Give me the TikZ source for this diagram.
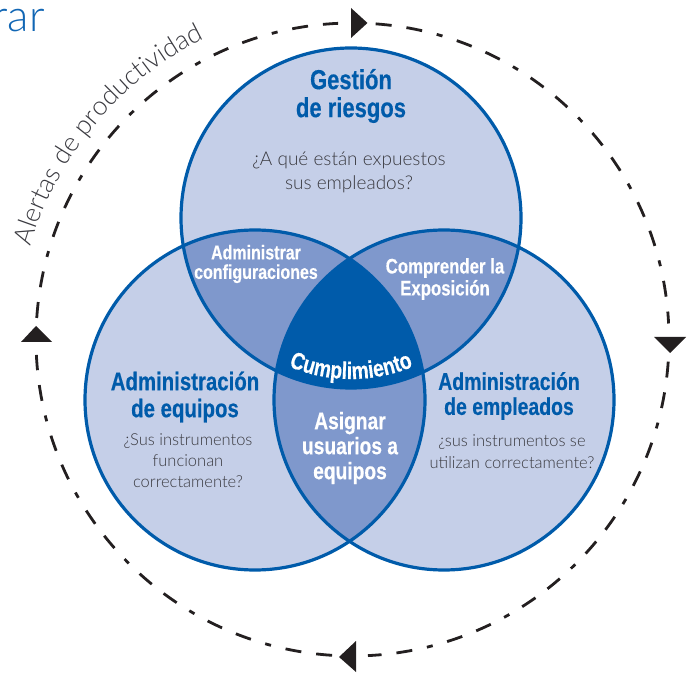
\documentclass[tikz,border=0pt]{standalone}
\usepackage{fontspec}
\setmainfont{Liberation Sans}
\newfontfamily\condfont[FakeStretch=0.80,FakeBold=0.4]{Liberation Sans Bold}
\newfontfamily\lightfont{Lato Light}
\usetikzlibrary{decorations.text}
\definecolor{vlight}{HTML}{C5CFE8}
\definecolor{vmid}{HTML}{7F98CC}
\definecolor{vdark}{HTML}{005BAA}
\definecolor{vgrey}{HTML}{3A3A40}
\definecolor{vblack}{HTML}{231F20}
\definecolor{vhead}{HTML}{1166B4}
\tikzset{
 x=1pt,y=1pt,
 ring/.style={draw=vdark,line width=3.2pt},
 track/.style={draw=vblack,line width=2.8pt,dash pattern=on 16pt off 15pt on 16pt off 15pt on 6pt off 15pt},
 head/.style={fill=vblack},
 title/.style={text=vdark,align=center,inner sep=0pt},
 note/.style={text=vgrey,align=center,inner sep=0pt},
 label/.style={text=white,align=center,inner sep=0pt},
}
\begin{document}
\begin{tikzpicture}
\useasboundingbox (0,0) rectangle (696,675);
\coordinate (ct) at (351,457);
\coordinate (cl) at (255,275);
\coordinate (cr) at (444,275);
\coordinate (cc) at (352.5,335.5);
% base fills
\fill[vlight] (ct) circle (170pt) (cl) circle (170pt) (cr) circle (170pt);
\begin{scope}\clip (ct) circle (170pt);\fill[vmid] (cl) circle (170pt) (cr) circle (170pt);\end{scope}
\begin{scope}\clip (cl) circle (170pt);\fill[vmid] (cr) circle (170pt);\end{scope}
\begin{scope}\clip (ct) circle (170pt);\clip (cl) circle (170pt);\fill[vdark] (cr) circle (170pt);\end{scope}
\draw[ring] (ct) circle (170pt);
\draw[ring] (cl) circle (170pt);
\draw[ring] (cr) circle (170pt);
% dashed cycle
\draw[track] (cc) ++(85.8:316.5pt) arc[start angle=85.8,end angle=2.9,radius=316.5pt];
\draw[track] (cc) ++(-4:316.5pt) arc[start angle=-4,end angle=-87.2,radius=316.5pt];
\draw[track] (cc) ++(-93.7:316.5pt) arc[start angle=-93.7,end angle=-177.2,radius=316.5pt];
\draw[track] (cc) ++(176.1:316.5pt) arc[start angle=176.1,end angle=92.6,radius=316.5pt];
% arrowheads
\fill[head] (351,667) -- (367.5,652) -- (351,637) -- cycle;
\fill[head] (654,338) -- (686,338) -- (670,322) -- cycle;
\fill[head] (356,34) -- (339,18) -- (356,3) -- cycle;
\fill[head] (21,333) -- (52,333) -- (36,349) -- cycle;
% curved text
\path[decorate,decoration={text along path,text align=center,
  text={|\lightfont\fontsize{26.5}{26.5}\selectfont\color{vgrey}|Alertas de productividad}}]
  (cc) ++(165:335pt) arc[start angle=165,end angle=115,radius=335pt];
\path[decorate,decoration={text along path,text align=center,
  text={|\condfont\fontsize{24}{24}\selectfont\color{white}|Cumplimiento}}]
  (ct) ++(-120:161pt) arc[start angle=-120,end angle=-60,radius=161pt];
% text
\node[title,font=\condfont\fontsize{27.5}{28}\selectfont] (t1) at (351,579) {Gestión\\de riesgos};
\node[note,font=\lightfont\fontsize{19}{24}\selectfont] (n1) at (349,503) {¿A qué están expuestos\\sus empleados?};
\node[title,font=\condfont\fontsize{25.5}{27}\selectfont] (t2) at (185,278) {Administración\\de equipos};
\node[note,font=\lightfont\fontsize{16.5}{21}\selectfont] (n2) at (188,214) {¿Sus instrumentos\\funcionan\\correctamente?};
\node[title,font=\condfont\fontsize{24.3}{25}\selectfont] (t3) at (509,279) {Administración\\de empleados};
\node[note,font=\lightfont\fontsize{16.5}{22}\selectfont] (n3) at (512,223) {¿sus instrumentos se\\utilizan correctamente?};
\node[label,font=\condfont\fontsize{20}{19.5}\selectfont] (a1) at (256,411) {Administrar\\configuraciones};
\node[label,font=\condfont\fontsize{21}{22}\selectfont] (a2) at (445,396) {Comprender la\\Exposición};
\node[label,font=\condfont\fontsize{24}{25}\selectfont] (a3) at (350,227) {Asignar\\usuarios a\\equipos};
% clipped title
\node[inner sep=0pt,anchor=base east,text=vhead,font=\lightfont\fontsize{44}{44}\selectfont] (hd) at (45,643) {rar};
\end{tikzpicture}
\end{document}
